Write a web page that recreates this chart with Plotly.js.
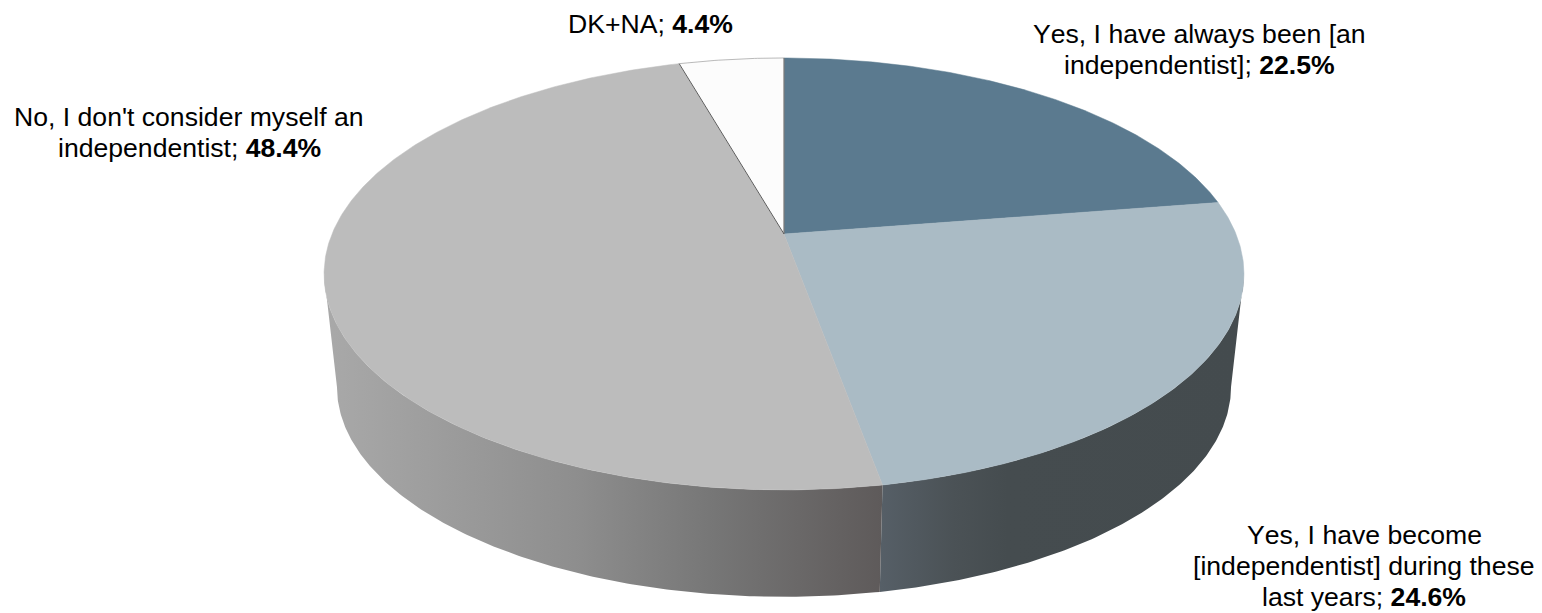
<!DOCTYPE html>
<html><head><meta charset="utf-8">
<script src="https://cdn.plot.ly/plotly-3.0.1.min.js"></script>
<style>html,body{margin:0;padding:0;background:#fff;overflow:hidden}#c{width:1542px;height:613px}text{font-kerning:none}</style>
</head><body><div id="c"></div>
<script>
// Data
const categories = ["Yes, I have always been [an independentist]", "Yes, I have become [independentist] during these last years", "No, I don't consider myself an independentist", "DK+NA"];
const values = [22.5, 24.6, 48.4, 4.4];
const topColors = ["#5b7a8f", "#aabbc5", "#bcbcbc", "#fcfcfc"];
const labelLines = [
  ["Yes, I have always been [an", "independentist]; <b>22.5%</b>"],
  ["Yes, I have become", "[independentist] during these", "last years; <b>24.6%</b>"],
  ["No, I don't consider myself an", "independentist; <b>48.4%</b>"],
  ["DK+NA; <b>4.4%</b>"]
];
const labelX = [1199, 1364, 189, 650];
const labelY = [34, 535, 117, 24];
const lineStep = 31;

// Perspective disc geometry
const cx = 784, apexY = 234, A = 452, B = 208.6, k = 0.185;
const baseScale = 0.972, baseApexY = 348;
const rad = d => d * Math.PI / 180;
function rim(deg, s, y0) {
  const u = Math.sin(rad(deg)), v = Math.cos(rad(deg)), d = 1 + k * v;
  return [cx + s * A * u / d, y0 - s * B * v / d];
}
function arc(a, b, s, y0) {
  const n = Math.max(2, Math.ceil(Math.abs(b - a) * 2)), out = [];
  for (let i = 0; i <= n; i++) out.push(rim(a + (b - a) * i / n, s, y0));
  return out;
}
const total = values.reduce((p, c) => p + c, 0);
let acc = 0;
const edges = [0];
values.forEach(v => { acc += v; edges.push(acc / total * 360); });
const silhouetteRight = 100.66, silhouetteLeft = 259.34;

function wall(a, b, grad) {
  const pts = arc(a, b, 1, apexY).concat(arc(b, a, baseScale, baseApexY));
  pts.push(pts[0]);
  return { type: "scatter", mode: "lines", x: pts.map(p => p[0]), y: pts.map(p => p[1]),
    line: { width: 0 }, fill: "toself", fillcolor: "#888", fillgradient: grad, hoverinfo: "skip", showlegend: false };
}
const traces = [];
traces.push(wall(silhouetteRight, edges[2], { type: "horizontal", colorscale: [[0, "#565f67"], [0.2, "#4b5256"], [0.35, "#454c4f"], [1, "#444b4e"]] }));
traces.push(wall(edges[2], silhouetteLeft, { type: "horizontal", colorscale: [[0, "#a9a9a9"], [0.45, "#8e8e8e"], [0.7, "#767676"], [1, "#5e5a5a"]] }));

values.forEach((v, i) => {
  const pts = [[cx, apexY]].concat(arc(edges[i], edges[i + 1], 1, apexY));
  pts.push([cx, apexY]);
  traces.push({ type: "scatter", mode: "lines", x: pts.map(p => p[0]), y: pts.map(p => p[1]),
    line: { width: 0.5, color: topColors[i] }, fill: "toself", fillcolor: topColors[i],
    name: categories[i], hoverinfo: "name", showlegend: false });
});
// Thin outline of the small white slice
const wa = arc(edges[3], edges[4], 1, apexY);
traces.push({ type: "scatter", mode: "lines", x: wa.map(p => p[0]), y: wa.map(p => p[1]),
  line: { width: 0.8, color: "#a8a8a8" }, hoverinfo: "skip", showlegend: false });
const sp = [wa[0], [cx, apexY], wa[wa.length - 1]];
traces.push({ type: "scatter", mode: "lines", x: sp.map(p => p[0]), y: sp.map(p => p[1]),
  line: { width: 1, color: "#5a5a5a" }, hoverinfo: "skip", showlegend: false });

const annotations = [];
labelLines.forEach((lines, i) => lines.forEach((t, j) => annotations.push({
  x: labelX[i], y: labelY[i] + j * lineStep, xref: "x", yref: "y", text: t, showarrow: false,
  xanchor: "center", yanchor: "middle", font: { family: "Liberation Sans, Arial, sans-serif", size: 26.6, color: "#000" }
})));

Plotly.newPlot("c", traces, {
  width: 1542, height: 613, margin: { l: 0, r: 0, t: 0, b: 0 },
  paper_bgcolor: "#fff", plot_bgcolor: "#fff", showlegend: false,
  xaxis: { range: [0, 1542], visible: false, fixedrange: true },
  yaxis: { range: [613, 0], visible: false, fixedrange: true },
  annotations
}, { displayModeBar: false, staticPlot: true });
</script></body></html>
